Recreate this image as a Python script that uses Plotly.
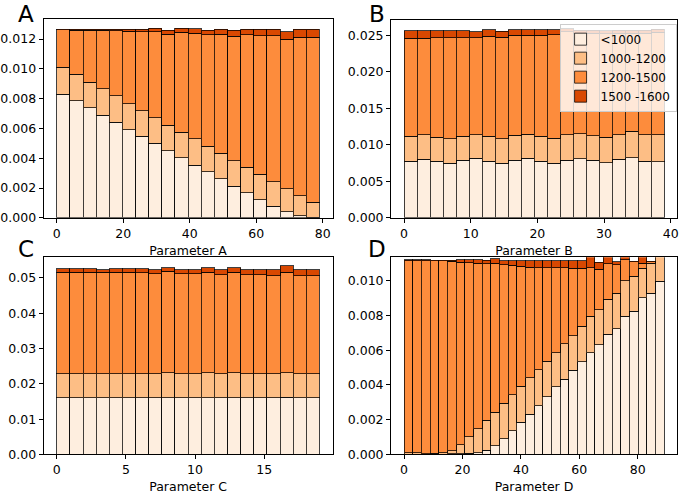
import plotly.graph_objects as go

# ---------------- data (values in units of 1e-3, density) ----------------
series_names = ["<1000", "1000-1200", "1200-1500", "1500 -1600"]
colors = ["#FEEEDF", "#FDBE85", "#FD8C3C", "#D94801"]

# Panel A : Parameter A, range 0..79, 20 bins
A_range = (0, 79)
A_lt1000 = [8.31, 7.85, 7.38, 6.90, 6.41, 5.92, 5.48, 5.02, 4.49, 4.02, 3.54, 3.09, 2.61, 2.12, 1.68, 1.22, 0.77, 0.40, 0.15, 0.04]
A_1000_1200 = [1.81, 1.79, 1.72, 1.76, 1.77, 1.75, 1.70, 1.70, 1.74, 1.73, 1.76, 1.71, 1.74, 1.70, 1.70, 1.70, 1.66, 1.54, 1.35, 1.00]
A_1200_1500 = [2.50, 2.96, 3.50, 3.94, 4.37, 4.85, 5.32, 5.78, 6.10, 6.69, 7.08, 7.49, 7.98, 8.36, 8.91, 9.30, 9.79, 10.04, 10.61, 11.07]
A_1500_1600 = [0.04, 0.04, 0.04, 0.04, 0.09, 0.12, 0.14, 0.22, 0.27, 0.28, 0.32, 0.31, 0.33, 0.40, 0.37, 0.44, 0.44, 0.50, 0.55, 0.55]

# Panel B : Parameter B, range 0..39, 20 bins
B_range = (0, 39)
B_lt1000 = [7.78, 8.00, 7.78, 7.46, 7.87, 8.14, 7.78, 7.46, 7.87, 8.14, 7.78, 7.46, 7.87, 8.09, 7.87, 7.55, 8.00, 8.23, 7.78, 7.69]
B_1000_1200 = [3.37, 3.38, 3.28, 3.38, 3.28, 3.24, 3.37, 3.38, 3.42, 3.28, 3.37, 3.47, 3.51, 3.42, 3.37, 3.51, 3.38, 3.65, 3.60, 3.69]
B_1200_1500 = [13.40, 13.17, 13.58, 13.80, 13.49, 13.26, 13.72, 13.89, 13.71, 13.58, 13.85, 14.11, 14.07, 13.79, 14.06, 14.14, 13.92, 13.42, 13.92, 14.02]
B_1500_1600 = [1.08, 1.08, 0.99, 0.99, 0.99, 0.81, 0.89, 0.81, 0.76, 0.76, 0.76, 0.72, 0.40, 0.40, 0.40, 0.40, 0.40, 0.40, 0.40, 0.40]

# Panel C : Parameter C, range 0..19, 20 bins
C_range = (0, 19)
C_lt1000 = [16.08, 16.08, 16.08, 16.08, 16.08, 16.08, 16.08, 16.08, 16.08, 16.08, 16.08, 16.08, 16.08, 16.08, 16.08, 16.08, 16.08, 16.26, 16.08, 16.08]
C_1000_1200 = [6.78, 6.78, 6.78, 6.78, 6.78, 6.78, 6.78, 6.78, 7.12, 6.78, 6.78, 7.12, 6.78, 7.12, 6.78, 6.78, 6.78, 6.94, 6.78, 6.78]
C_1200_1500 = [28.80, 28.80, 28.80, 28.74, 28.80, 28.80, 28.64, 28.34, 28.64, 28.34, 28.34, 28.40, 28.04, 28.40, 28.04, 28.04, 27.84, 28.46, 27.84, 27.84]
C_1500_1600 = [0.94, 0.94, 0.94, 0.70, 0.94, 0.94, 1.10, 1.10, 1.12, 1.10, 1.10, 1.36, 1.40, 1.36, 1.40, 1.40, 1.60, 1.74, 1.60, 1.60]

# Panel D : Parameter D, range 0..89, 30 bins
D_range = (0, 89)
D_lt1000 = [0.00, 0.00, 0.00, 0.00, 0.01, 0.03, 0.03, 0.07, 0.11, 0.24, 0.49, 0.89, 1.36, 1.85, 2.30, 2.81, 3.32, 3.89, 4.32, 4.83, 5.32, 5.86, 6.30, 6.92, 7.24, 7.94, 8.25, 9.00, 9.28, 9.96]
D_1000_1200 = [0.09, 0.09, 0.05, 0.07, 0.08, 0.19, 0.53, 0.95, 1.36, 1.72, 1.94, 2.05, 2.07, 2.06, 2.12, 2.07, 2.04, 1.97, 2.04, 2.00, 2.05, 2.08, 2.02, 2.02, 2.04, 2.04, 2.01, 1.70, 1.72, 1.44]
D_1200_1500 = [11.06, 11.06, 11.10, 11.06, 11.04, 10.89, 10.50, 10.00, 9.53, 9.00, 8.57, 7.97, 7.44, 6.92, 6.36, 5.85, 5.37, 4.87, 4.37, 3.87, 3.33, 2.79, 2.32, 2.02, 1.64, 1.22, 0.82, 0.30, 0.08, 0.00]
D_1500_1600 = [0.06, 0.06, 0.04, 0.04, 0.04, 0.06, 0.13, 0.17, 0.19, 0.21, 0.26, 0.22, 0.28, 0.32, 0.37, 0.42, 0.42, 0.42, 0.42, 0.45, 0.45, 0.72, 0.42, 0.49, 0.16, 0.25, 0.04, 0.40, 0.02, 0.00]

panels = [
    dict(letter="A", label="Parameter A", rng=A_range, data=[A_lt1000, A_1000_1200, A_1200_1500, A_1500_1600],
         xr=[-3.95, 82.95], yr=[0, 0.01336], xt=[0, 20, 40, 60, 80], yt=[0, 0.002, 0.004, 0.006, 0.008, 0.010, 0.012], fmt=".3f"),
    dict(letter="B", label="Parameter B", rng=B_range, data=[B_lt1000, B_1000_1200, B_1200_1500, B_1500_1600],
         xr=[-1.95, 40.95], yr=[0, 0.02712], xt=[0, 10, 20, 30, 40], yt=[0, 0.005, 0.010, 0.015, 0.020, 0.025], fmt=".3f"),
    dict(letter="C", label="Parameter C", rng=C_range, data=[C_lt1000, C_1000_1200, C_1200_1500, C_1500_1600],
         xr=[-0.95, 19.95], yr=[0, 0.05586], xt=[0, 5, 10, 15], yt=[0, 0.01, 0.02, 0.03, 0.04, 0.05], fmt=".2f"),
    dict(letter="D", label="Parameter D", rng=D_range, data=[D_lt1000, D_1000_1200, D_1200_1500, D_1500_1600],
         xr=[-4.45, 93.45], yr=[0, 0.01134], xt=[0, 20, 40, 60, 80], yt=[0, 0.002, 0.004, 0.006, 0.008, 0.010], fmt=".3f"),
]

W, H = 684, 494
# axes boxes in pixels: (left, right, top, bottom)
boxes = [(39, 331, 19, 221), (390, 679, 20, 221), (39, 331, 261, 461), (390, 679, 261, 461)]
letter_pos = [(21, 14), (376, 14), (21, 253), (376, 253)]

FONT = "DejaVu Sans"
fig = go.Figure()
layout = dict(width=W, height=H, margin=dict(l=0, r=0, t=0, b=0), barmode="stack",
              paper_bgcolor="white", plot_bgcolor="white",
              font=dict(family=FONT, size=12, color="black"))
annotations = []

for i, p in enumerate(panels):
    n = len(p["data"][0])
    lo, hi = p["rng"]
    w = (hi - lo) / n
    centers = [lo + (k + 0.5) * w for k in range(n)]
    sfx = "" if i == 0 else str(i + 1)
    for s, vals in enumerate(p["data"]):
        fig.add_trace(go.Bar(
            x=centers, y=[v / 1000 for v in vals], width=[w] * n,
            name=series_names[s], legendgroup=series_names[s], showlegend=(i == 0),
            marker=dict(color=colors[s], line=dict(color="rgba(0,0,0,0.75)", width=1)),
            xaxis="x" + sfx, yaxis="y" + sfx))
    l, r, t, b = boxes[i]
    axcommon = dict(showline=True, mirror=True, linecolor="black", linewidth=0.9,
                    ticks="outside", ticklen=4, tickwidth=0.9, tickcolor="black",
                    showgrid=False, zeroline=False, tickfont=dict(size=12.5, family=FONT))
    layout["xaxis" + sfx] = dict(domain=[l / W, r / W], anchor="y" + sfx, range=p["xr"],
                                 tickvals=p["xt"], title=dict(text=p["label"], standoff=6, font=dict(size=12.5)),
                                 **axcommon)
    layout["yaxis" + sfx] = dict(domain=[1 - b / H, 1 - t / H], anchor="x" + sfx, range=p["yr"],
                                 tickvals=p["yt"], tickformat=p["fmt"], **axcommon)
    lx, ly = letter_pos[i]
    annotations.append(dict(text=p["letter"], x=lx / W, y=1 - ly / H, xref="paper", yref="paper",
                            xanchor="center", yanchor="middle", showarrow=False,
                            font=dict(size=23, family=FONT, color="black")))

layout["annotations"] = annotations
layout["legend"] = dict(x=0.992, y=1 - 24 / H, xanchor="right", yanchor="top",
                        bgcolor="rgba(255,255,255,0.8)", bordercolor="#cccccc", borderwidth=1,
                        font=dict(size=12, family=FONT), traceorder="normal",
                        tracegroupgap=0, itemwidth=30)
fig.update_layout(**layout)
fig.write_html("out.html")
